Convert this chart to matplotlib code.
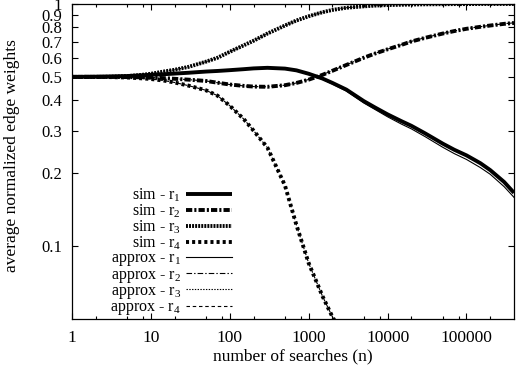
import matplotlib
matplotlib.use("Agg")
import matplotlib.pyplot as plt
from matplotlib.ticker import FixedLocator, FixedFormatter, NullLocator

plt.rcParams['font.family'] = ['Liberation Serif', 'DejaVu Serif']
plt.rcParams['mathtext.fontset'] = 'custom'
plt.rcParams['mathtext.rm'] = 'Liberation Serif'
plt.rcParams['mathtext.it'] = 'Liberation Serif'
plt.rcParams['lines.scale_dashes'] = False

# number of searches
n = [1, 2, 3, 5, 7, 10, 15, 20, 30, 50, 70, 100, 150, 200, 300, 500, 700,
     1000, 1500, 2000, 3000, 5000, 7000, 10000, 15000, 20000, 30000, 50000,
     70000, 100000, 150000, 200000, 300000, 400000]

sim_r1 = [0.500, 0.501, 0.502, 0.504, 0.507, 0.510, 0.513, 0.516, 0.520, 0.526,
          0.529, 0.533, 0.538, 0.542, 0.545, 0.541, 0.532, 0.515, 0.492, 0.472,
          0.443, 0.397, 0.373, 0.350, 0.328, 0.314, 0.292, 0.265, 0.250, 0.237,
          0.220, 0.206, 0.184, 0.166]
sim_r2 = [0.500, 0.500, 0.500, 0.499, 0.498, 0.497, 0.494, 0.491, 0.487, 0.481,
          0.473, 0.465, 0.459, 0.456, 0.455, 0.462, 0.472, 0.487, 0.510, 0.530,
          0.560, 0.600, 0.625, 0.650, 0.678, 0.700, 0.725, 0.755, 0.773, 0.790,
          0.805, 0.815, 0.828, 0.835]
sim_r3 = [0.500, 0.500, 0.501, 0.504, 0.508, 0.515, 0.527, 0.535, 0.550, 0.578,
          0.600, 0.635, 0.675, 0.705, 0.755, 0.815, 0.855, 0.890, 0.925, 0.945,
          0.965, 0.978, 0.985, 0.990, 0.993, 0.995, 0.997, 0.998, 0.999, 0.999,
          1.000, 1.000, 1.000, 1.000]
n4 = [1, 2, 3, 5, 7, 10, 15, 20, 30, 50, 70, 100, 150, 200, 300, 500, 700,
      1000, 1500, 2000, 2500]
sim_r4 = [0.500, 0.500, 0.499, 0.497, 0.494, 0.490, 0.482, 0.474, 0.460, 0.440,
          0.418, 0.380, 0.335, 0.300, 0.255, 0.178, 0.122, 0.085, 0.062, 0.051,
          0.045]

app_r1 = [0.500, 0.501, 0.502, 0.504, 0.507, 0.510, 0.513, 0.516, 0.520, 0.526,
          0.529, 0.533, 0.538, 0.542, 0.544, 0.540, 0.530, 0.512, 0.488, 0.467,
          0.437, 0.390, 0.366, 0.342, 0.319, 0.305, 0.283, 0.256, 0.241, 0.228,
          0.211, 0.198, 0.176, 0.159]
app_r2 = [0.500, 0.500, 0.500, 0.499, 0.498, 0.497, 0.494, 0.491, 0.487, 0.481,
          0.473, 0.465, 0.459, 0.456, 0.455, 0.462, 0.472, 0.488, 0.511, 0.531,
          0.561, 0.601, 0.626, 0.651, 0.679, 0.701, 0.726, 0.756, 0.774, 0.791,
          0.806, 0.816, 0.829, 0.836]
app_r3 = [0.500, 0.500, 0.501, 0.504, 0.508, 0.515, 0.527, 0.535, 0.550, 0.578,
          0.600, 0.635, 0.675, 0.705, 0.755, 0.815, 0.855, 0.890, 0.925, 0.945,
          0.965, 0.978, 0.985, 0.990, 0.993, 0.995, 0.997, 0.998, 0.999, 0.999,
          1.000, 1.000, 1.000, 1.000]
app_r4 = [0.500, 0.500, 0.499, 0.497, 0.494, 0.490, 0.482, 0.474, 0.460, 0.440,
          0.418, 0.380, 0.335, 0.300, 0.255, 0.178, 0.122, 0.085, 0.062, 0.051,
          0.045]

ytick_vals = [0.1, 0.2, 0.3, 0.4, 0.5, 0.6, 0.7, 0.8, 0.9, 1.0]
ytick_labels = ['0.1', '0.2', '0.3', '0.4', '0.5', '0.6', '0.7', '0.8', '0.9', '1']
xtick_vals = [1, 10, 100, 1000, 10000, 100000]
xtick_labels = ['1', '10', '100', '1000', '10000', '100000']

fig = plt.figure(figsize=(5.16, 3.66), dpi=100)
ax = fig.add_axes([72/516, 1-319/366, 442/516, 315/366])

thick = 2.8
thin = 0.8
ax.plot(n, sim_r1, color='black', lw=thick, solid_capstyle='butt', label=r'sim - r$_{\mathregular{1}}$')
ax.plot(n, sim_r2, color='black', lw=thick, dashes=(4.5, 1.5, 1.5, 1.5), label=r'sim - r$_{\mathregular{2}}$')
ax.plot(n, sim_r3, color='black', lw=thick, dashes=(1.4, 0.8), label=r'sim - r$_{\mathregular{3}}$')
ax.plot(n4, sim_r4, color='black', lw=thick, dashes=(2.2, 2.2), label=r'sim - r$_{\mathregular{4}}$')
ax.plot(n, app_r1, color='black', lw=thin, label=r'approx - r$_{\mathregular{1}}$')
ax.plot(n, app_r2, color='black', lw=thin, dashes=(4, 1.5, 1, 1.5), label=r'approx - r$_{\mathregular{2}}$')
ax.plot(n, app_r3, color='black', lw=thin, dashes=(1, 1), label=r'approx - r$_{\mathregular{3}}$')
ax.plot(n4, app_r4, color='black', lw=thin, dashes=(2.5, 2), label=r'approx - r$_{\mathregular{4}}$')

ax.set_xscale('log')
ax.set_yscale('log')
ax.set_xlim(1, 400000)
ax.set_ylim(0.05, 1.0)

ax.xaxis.set_major_locator(FixedLocator(xtick_vals))
ax.xaxis.set_major_formatter(FixedFormatter(xtick_labels))
minor = []
for d in [1, 10, 100, 1000, 10000, 100000]:
    for m in [2, 5, 8]:
        if d * m <= 400000:
            minor.append(d * m)
ax.xaxis.set_minor_locator(FixedLocator(minor))
ax.xaxis.set_minor_formatter(FixedFormatter([''] * len(minor)))
ax.yaxis.set_major_locator(FixedLocator(ytick_vals))
ax.yaxis.set_major_formatter(FixedFormatter(ytick_labels))
ax.yaxis.set_minor_locator(NullLocator())

ax.tick_params(which='both', direction='in', top=True, right=True, width=0.8)
ax.tick_params(axis='x', labelsize=12.5, pad=8)
ax.tick_params(axis='y', labelsize=12, pad=7)
ax.tick_params(which='major', length=4.5)
ax.tick_params(which='minor', length=2.3)
for s in ax.spines.values():
    s.set_linewidth(0.9)

ax.set_xlabel('number of searches (n)', fontsize=12.5)
ax.set_ylabel('average normalized edge weights', fontsize=12.5)
ax.xaxis.set_label_coords(0.5, -0.092)
ax.yaxis.set_label_coords(-0.118, 0.52)

leg = ax.legend(loc='lower right', bbox_to_anchor=(0.362, 0.005), markerfirst=False,
                frameon=False, fontsize=11.5, handlelength=2.85, handletextpad=0.35,
                labelspacing=-0.1, borderpad=0, borderaxespad=0)

fig.savefig('out.png', dpi=100)
